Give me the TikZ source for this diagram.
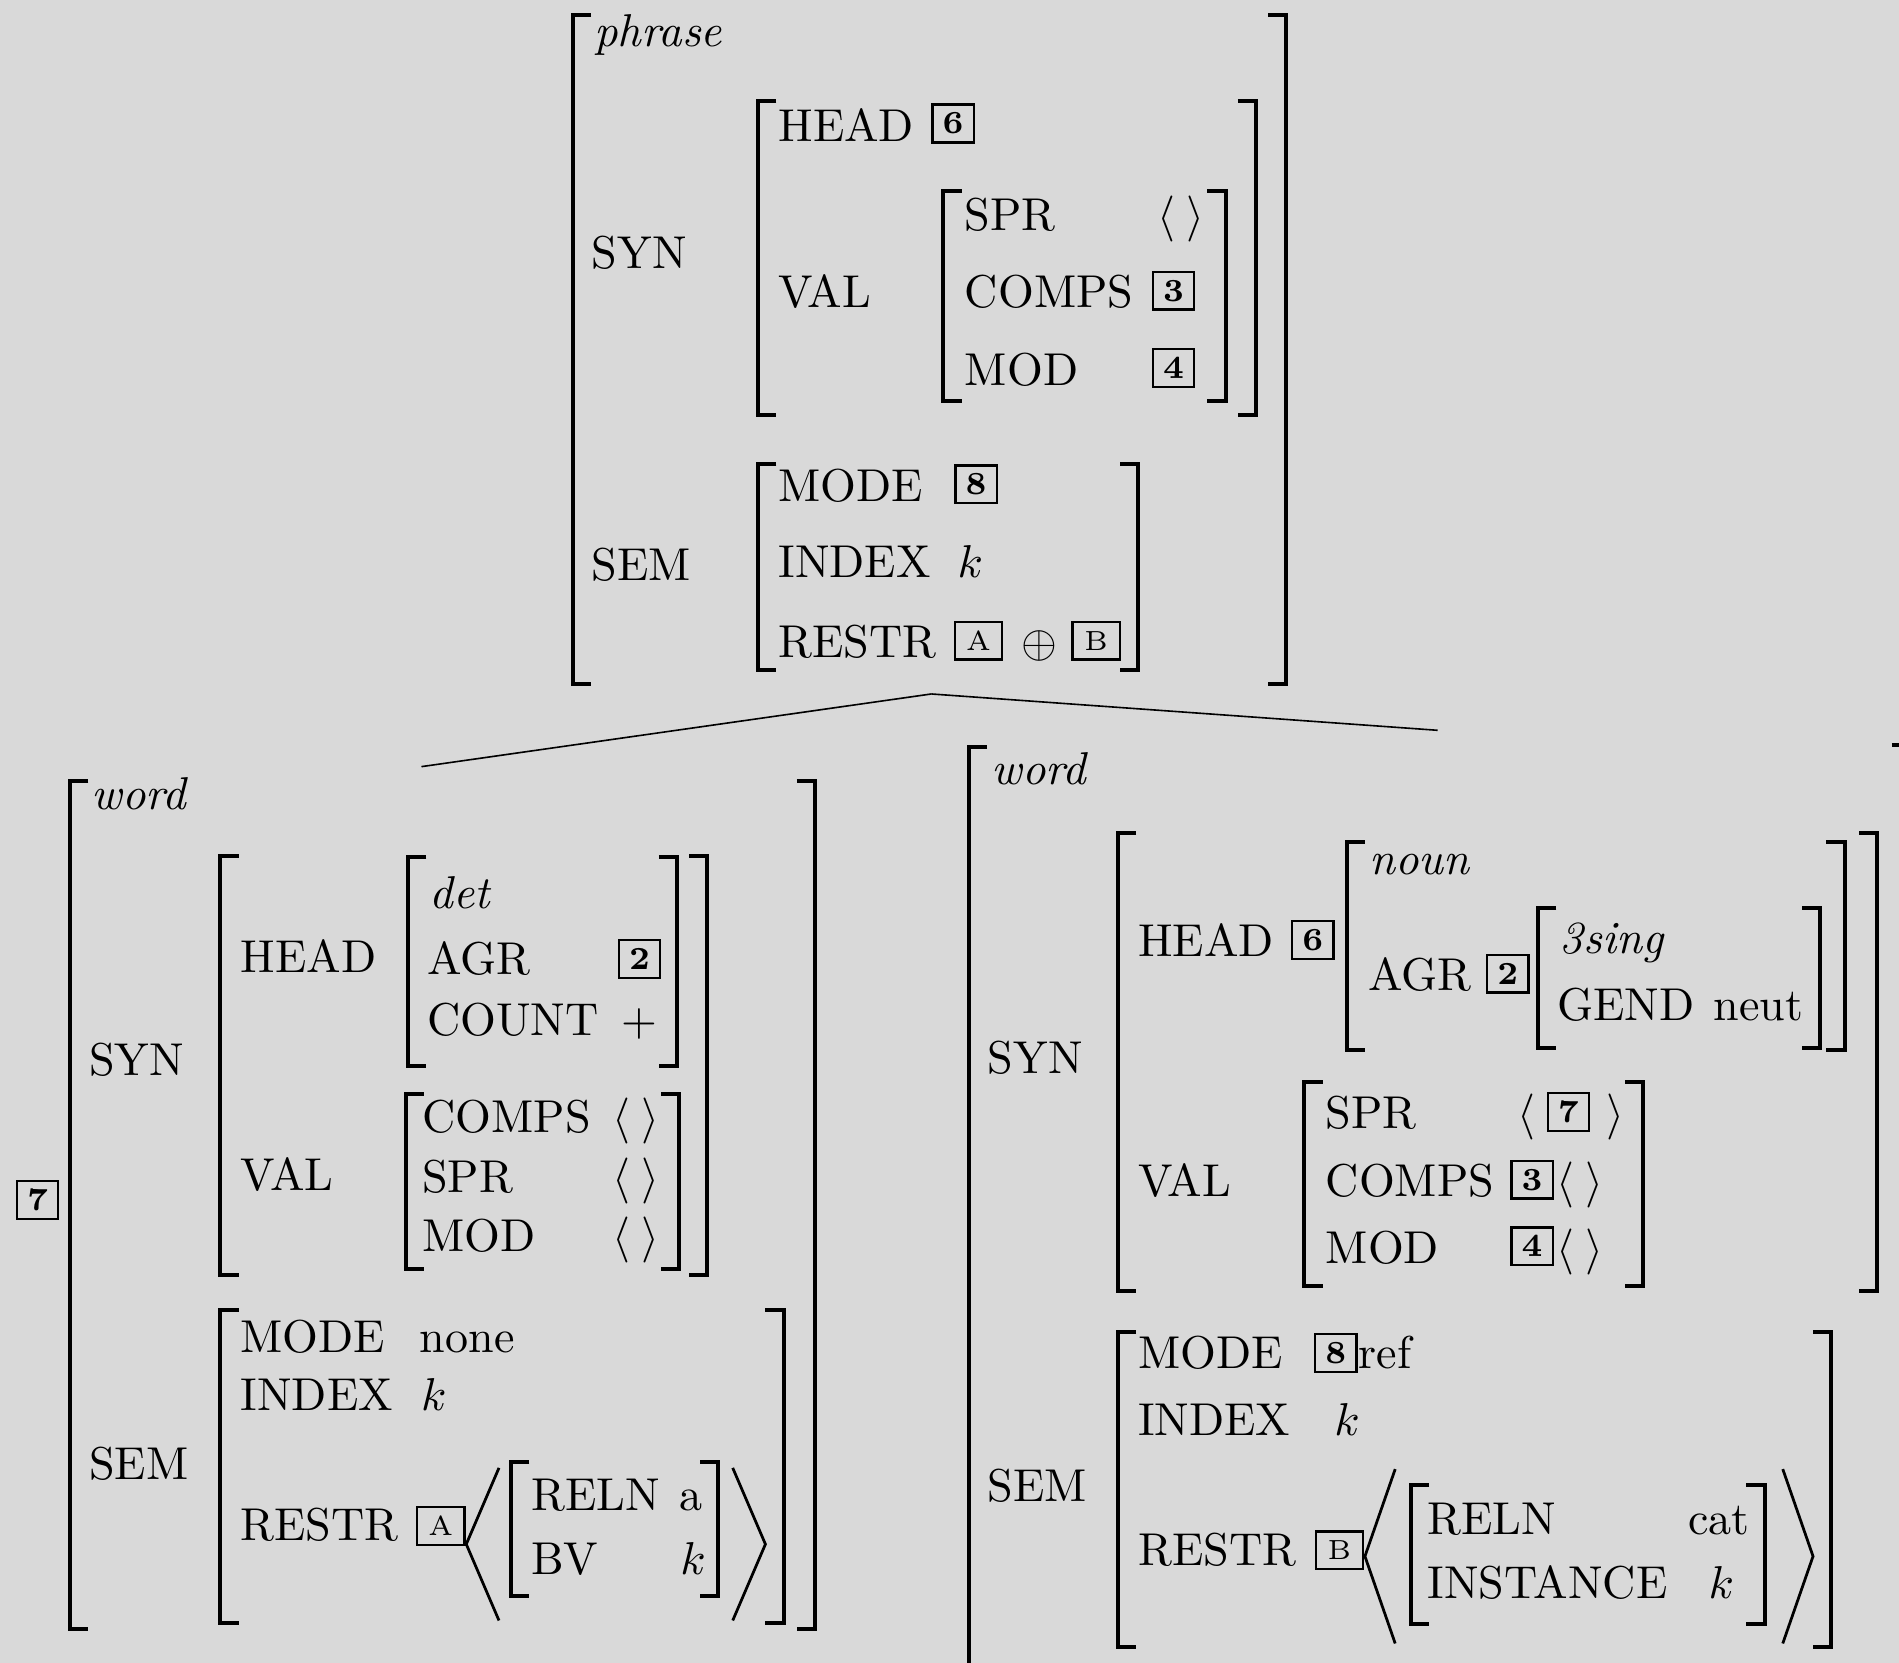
\documentclass[tikz,border=0pt]{standalone}
\definecolor{bg}{RGB}{217,217,217}
\newcommand\LBr[3]{\draw[brk] (#1+15,#2) -| (#1,#3) -- (#1+15,#3);}
\newcommand\RBr[3]{\draw[brk] (#1-15,#2) -| (#1,#3) -- (#1-15,#3);}
\newcommand\emptyl{$\langle\hspace{2.5pt}\rangle$}
\begin{document}
\begin{tikzpicture}[x=0.263pt,y=-0.263pt,
  brk/.style={line width=0.87pt},
  ang/.style={line width=0.6pt},
  t/.style={anchor=base west,inner sep=0pt},
  tagd/.style={draw,line width=0.5pt,inner sep=0pt,minimum width=9pt,minimum height=8.2pt,font=\fontsize{7}{8}\selectfont\bfseries},
  tagl/.style={draw,line width=0.5pt,inner sep=0pt,minimum width=10.3pt,minimum height=8.2pt,font=\fontsize{6}{7}\selectfont},
  tree/.style={line width=0.35pt}]
\fill[bg] (0,0) rectangle (1568,1373);
\clip (0,0) rectangle (1568,1373);
% ---------------- phrase ----------------
\LBr{473}{12}{565} \RBr{1062}{12}{565}
\node[t] (ph) at (490,38) {\textit{phrase}};
\node[t] (psyn) at (488,222) {SYN};
\LBr{626}{83}{343} \RBr{1037}{83}{343}
\node[t] (phead) at (642,117) {HEAD};
\node[tagd] (p6) at (787,102) {6};
\node[t] (pval) at (642,254) {VAL};
\LBr{779}{158}{331} \RBr{1012}{158}{331}
\node[t] (pspr) at (796,190) {SPR};
\node[t] (psprv) at (955,190) {\emptyl};
\node[t] (pcomps) at (796,254) {COMPS};
\node[tagd] (p3) at (969,240) {3};
\node[t] (pmod) at (796,318) {MOD};
\node[tagd] (p4) at (969,304) {4};
\node[t] (psem) at (488,479) {SEM};
\LBr{626}{383}{553} \RBr{940}{383}{553}
\node[t] (pmode) at (642,414) {MODE};
\node[tagd] (p8) at (806,400) {8};
\node[t] (pindex) at (642,477) {INDEX};
\node[t] (pk) at (790,477) {$k$};
\node[t] (prestr) at (642,543) {RESTR};
\node[tagl] (pA) at (808,529) {A};
\node[t] (poplus) at (843,543) {$\oplus$};
\node[tagl] (pB) at (905,529) {B};
% ---------------- tree ----------------
\coordinate (top) at (769,573);
\coordinate (lch) at (348,633);
\coordinate (rch) at (1187,603);
\draw[tree] (top) -- (lch);
\draw[tree] (top) -- (rch);
% ---------------- left word ----------------
\node[tagd] (l7) at (31,991) {7};
\LBr{58}{645}{1345} \RBr{673}{645}{1345}
\node[t] (lw) at (75,668) {\textit{word}};
\node[t] (lsyn) at (73,888) {SYN};
\LBr{182}{707}{1053} \RBr{584}{707}{1053}
\node[t] (lhead) at (198,803) {HEAD};
\LBr{337}{708}{880} \RBr{559}{708}{880}
\node[t] (ldet) at (354,750) {\textit{det}};
\node[t] (lagr) at (352,805) {AGR};
\node[tagd] (l2) at (528,792) {2};
\node[t] (lcount) at (352,855) {COUNT};
\node[t] (lplus) at (512,855) {$+$};
\node[t] (lval) at (198,983) {VAL};
\LBr{335}{903}{1048} \RBr{561}{903}{1048}
\node[t] (lcomps) at (348,935) {COMPS};
\node[t] (lcompsv) at (505,935) {\emptyl};
\node[t] (lspr) at (348,985) {SPR};
\node[t] (lsprv) at (505,985) {\emptyl};
\node[t] (lmod) at (348,1033) {MOD};
\node[t] (lmodv) at (505,1033) {\emptyl};
\node[t] (lsem) at (73,1222) {SEM};
\LBr{182}{1082}{1340} \RBr{647}{1082}{1340}
\node[t] (lmode) at (198,1117) {MODE};
\node[t] (lnone) at (346,1117) {none};
\node[t] (lindex) at (198,1165) {INDEX};
\node[t] (lk) at (347,1165) {$k$};
\node[t] (lrestr) at (198,1272) {RESTR};
\node[tagl] (lA) at (364,1260) {A};
\draw[ang] (412,1212) -- (385,1275) -- (412,1338);
\LBr{422}{1207}{1318} \RBr{593}{1207}{1318}
\node[t] (lreln) at (438,1247) {RELN};
\node[t] (la) at (560,1247) {a};
\node[t] (lbv) at (438,1300) {BV};
\node[t] (lbvk) at (561,1300) {$k$};
\draw[ang] (605,1212) -- (632,1275) -- (605,1338);
% ---------------- right word ----------------
\LBr{800}{617}{1400} \RBr{1577}{615}{1400}
\node[t] (rw) at (818,648) {\textit{word}};
\node[t] (rsyn) at (815,886) {SYN};
\LBr{923}{688}{1066} \RBr{1550}{688}{1066}
\node[t] (rhead) at (939,790) {HEAD};
\node[tagd] (r6) at (1084,776) {6};
\LBr{1112}{695}{867} \RBr{1523}{695}{867}
\node[t] (rnoun) at (1130,722) {\textit{noun}};
\node[t] (ragr) at (1129,818) {AGR};
\node[tagd] (r2) at (1245,804) {2};
\LBr{1270}{750}{865} \RBr{1503}{750}{865}
\node[t] (r3s) at (1287,787) {\textit{3sing}};
\node[t] (rgend) at (1285,843) {GEND};
\node[t] (rneut) at (1414,843) {neut};
\node[t] (rval) at (939,988) {VAL};
\LBr{1077}{893}{1062} \RBr{1357}{893}{1062}
\node[t] (rspr) at (1094,932) {SPR};
\node[t] (rla) at (1252,932) {$\langle$};
\node[tagd] (r7) at (1295,918) {7};
\node[t] (rra) at (1326,932) {$\rangle$};
\node[t] (rcomps) at (1094,988) {COMPS};
\node[tagd] (r3) at (1265,974) {3};
\node[t] (rcompsv) at (1284,988) {\emptyl};
\node[t] (rmod) at (1094,1043) {MOD};
\node[tagd] (r4) at (1265,1029) {4};
\node[t] (rmodv) at (1284,1043) {\emptyl};
\node[t] (rsem) at (815,1240) {SEM};
\LBr{923}{1100}{1360} \RBr{1512}{1100}{1360}
\node[t] (rmode) at (939,1130) {MODE};
\node[tagd] (r8) at (1103,1117) {8};
\node[t] (rref) at (1121,1130) {ref};
\node[t] (rindex) at (939,1185) {INDEX};
\node[t] (rk) at (1101,1185) {$k$};
\node[t] (rrestr) at (939,1293) {RESTR};
\node[tagl] (rB) at (1106,1280) {B};
\draw[ang] (1152,1213) -- (1127,1285) -- (1152,1357);
\LBr{1165}{1226}{1341} \RBr{1457}{1226}{1341}
\node[t] (rreln) at (1178,1267) {RELN};
\node[t] (rcat) at (1393,1267) {cat};
\node[t] (rinst) at (1178,1320) {INSTANCE};
\node[t] (rinstk) at (1410,1320) {$k$};
\draw[ang] (1472,1213) -- (1497,1285) -- (1472,1357);
\end{tikzpicture}
\end{document}
